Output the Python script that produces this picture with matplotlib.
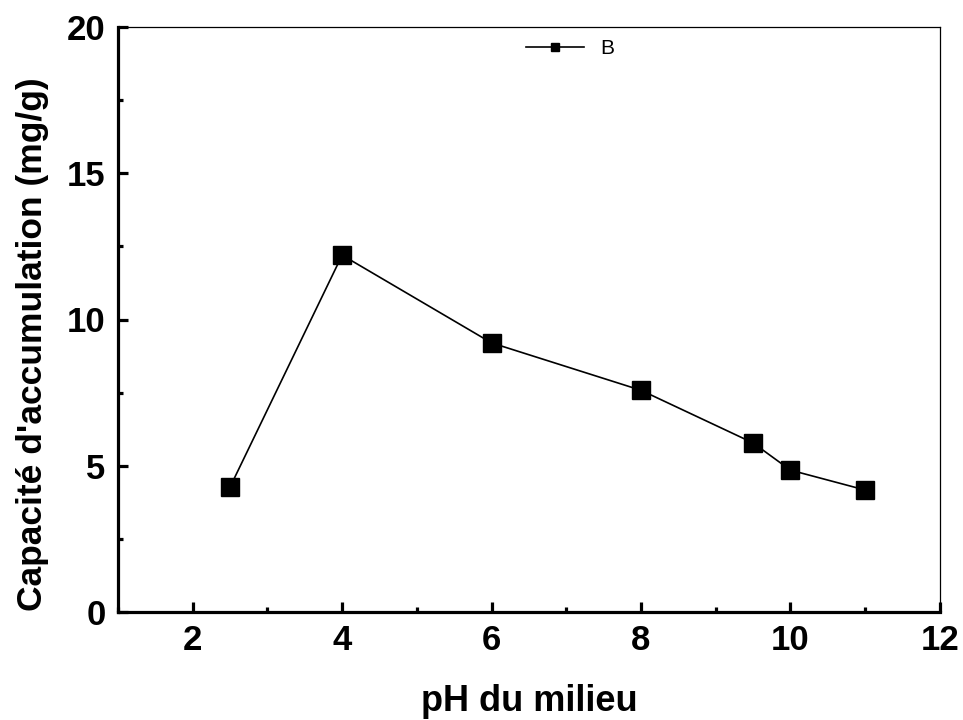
import matplotlib
matplotlib.use('Agg')
import matplotlib.pyplot as plt
from matplotlib.ticker import MultipleLocator

plt.rcParams['font.family'] = ['Liberation Sans', 'DejaVu Sans']

ph = [2.5, 4, 6, 8, 9.5, 10, 11]
capacite = [4.27, 12.2, 9.2, 7.58, 5.78, 4.85, 4.17]

fig = plt.figure(figsize=(9.63, 7.2), dpi=100)
ax = fig.add_axes([0.1225, 0.15, 0.8535, 0.8125])

ax.plot(ph, capacite, color='black', lw=1.2, marker='s', ms=13, label='B')

ax.set_xlim(1, 12)
ax.set_ylim(0, 20)
ax.xaxis.set_major_locator(MultipleLocator(2))
ax.xaxis.set_minor_locator(MultipleLocator(1))
ax.yaxis.set_major_locator(MultipleLocator(5))
ax.yaxis.set_minor_locator(MultipleLocator(2.5))

for s in ['left', 'bottom']:
    ax.spines[s].set_linewidth(2.3)
for s in ['top', 'right']:
    ax.spines[s].set_linewidth(0.9)

ax.tick_params(which='major', direction='in', length=7, width=2.3, labelsize=25, pad=9)
ax.tick_params(which='minor', direction='in', length=3.5, width=2.3)
for lab in ax.get_xticklabels() + ax.get_yticklabels():
    lab.set_fontweight('bold')

ax.set_xlabel('pH du milieu', fontsize=26, fontweight='bold', labelpad=19)
ax.set_ylabel("Capacité d'accumulation (mg/g)", fontsize=25.5, fontweight='bold',
              labelpad=13, y=0.458)

ax.legend(loc='upper center', frameon=False, fontsize=15, handlelength=2.8,
          bbox_to_anchor=(0.55, 1.0), borderaxespad=0.2, markerscale=0.46)

fig.savefig('out.png', dpi=100)
